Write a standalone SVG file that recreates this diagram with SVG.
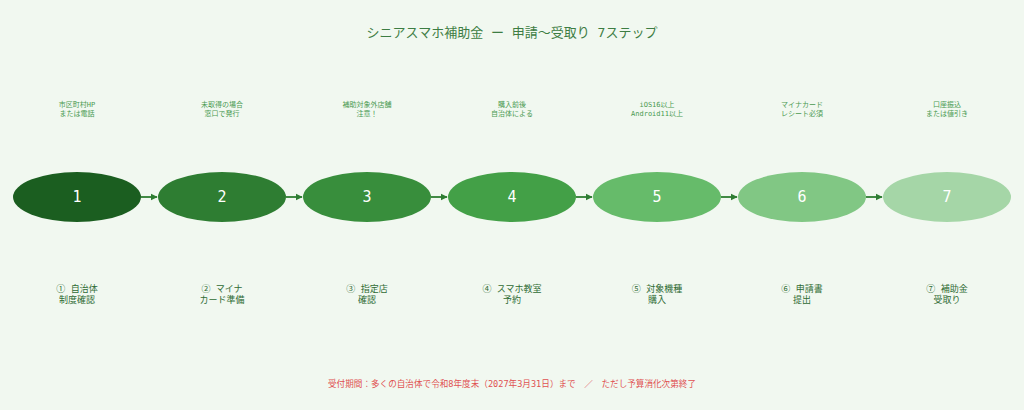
<svg xmlns="http://www.w3.org/2000/svg" width="1024" height="410" viewBox="0 0 1024 410">
<defs>
<marker id="ah" viewBox="0 0 10 10" refX="9" refY="5" markerWidth="4" markerHeight="4" orient="auto"><path d="M0,0 L10,5 L0,10 z" fill="#2e7d32"/></marker>
<style>
text{font-family:"DejaVu Sans Mono","Noto Sans CJK JP",monospace;text-anchor:middle}
.title{font-size:13px;fill:#3d7d43}
.num{font-size:15px;fill:#ffffff}
.note{font-size:7px;fill:#4a9a50}
.lab{font-size:9px;fill:#2e6b33}
.foot{font-size:8.6px;fill:#e05050}
.conn{stroke:#2e7d32;stroke-width:1.8;fill:none;marker-end:url(#ah)}
</style>
</defs>
<rect width="1024" height="410" fill="#f1f8f0"/>
<text class="title" x="512" y="37">シニアスマホ補助金 ー 申請～受取り 7ステップ</text>
<g id="connectors">
<line class="conn" x1="141" y1="197" x2="157" y2="197"/>
<line class="conn" x1="286" y1="197" x2="302" y2="197"/>
<line class="conn" x1="431" y1="197" x2="447" y2="197"/>
<line class="conn" x1="576" y1="197" x2="592" y2="197"/>
<line class="conn" x1="721" y1="197" x2="737" y2="197"/>
<line class="conn" x1="866" y1="197" x2="882" y2="197"/>
</g>
<g id="step1"><ellipse cx="77" cy="197" rx="64" ry="25" fill="#1b5e20"/><text class="num" x="77" y="202">1</text>
<text class="note" x="77" y="107">市区町村HP</text><text class="note" x="77" y="116">または電話</text>
<text class="lab" x="77" y="292">① 自治体</text><text class="lab" x="77" y="303">制度確認</text></g>
<g id="step2"><ellipse cx="222" cy="197" rx="64" ry="25" fill="#2e7d32"/><text class="num" x="222" y="202">2</text>
<text class="note" x="222" y="107">未取得の場合</text><text class="note" x="222" y="116">窓口で発行</text>
<text class="lab" x="222" y="292">② マイナ</text><text class="lab" x="222" y="303">カード準備</text></g>
<g id="step3"><ellipse cx="367" cy="197" rx="64" ry="25" fill="#388e3c"/><text class="num" x="367" y="202">3</text>
<text class="note" x="367" y="107">補助対象外店舗</text><text class="note" x="367" y="116">注意！</text>
<text class="lab" x="367" y="292">③ 指定店</text><text class="lab" x="367" y="303">確認</text></g>
<g id="step4"><ellipse cx="512" cy="197" rx="64" ry="25" fill="#43a047"/><text class="num" x="512" y="202">4</text>
<text class="note" x="512" y="107">購入前後</text><text class="note" x="512" y="116">自治体による</text>
<text class="lab" x="512" y="292">④ スマホ教室</text><text class="lab" x="512" y="303">予約</text></g>
<g id="step5"><ellipse cx="657" cy="197" rx="64" ry="25" fill="#66bb6a"/><text class="num" x="657" y="202">5</text>
<text class="note" x="657" y="107">iOS16以上</text><text class="note" x="657" y="116">Android11以上</text>
<text class="lab" x="657" y="292">⑤ 対象機種</text><text class="lab" x="657" y="303">購入</text></g>
<g id="step6"><ellipse cx="802" cy="197" rx="64" ry="25" fill="#81c784"/><text class="num" x="802" y="202">6</text>
<text class="note" x="802" y="107">マイナカード</text><text class="note" x="802" y="116">レシート必須</text>
<text class="lab" x="802" y="292">⑥ 申請書</text><text class="lab" x="802" y="303">提出</text></g>
<g id="step7"><ellipse cx="947" cy="197" rx="64" ry="25" fill="#a5d6a7"/><text class="num" x="947" y="202">7</text>
<text class="note" x="947" y="107">口座振込</text><text class="note" x="947" y="116">または値引き</text>
<text class="lab" x="947" y="292">⑦ 補助金</text><text class="lab" x="947" y="303">受取り</text></g>
<text class="foot" x="512" y="387">受付期間：多くの自治体で令和8年度末（2027年3月31日）まで　／　ただし予算消化次第終了</text>
</svg>
